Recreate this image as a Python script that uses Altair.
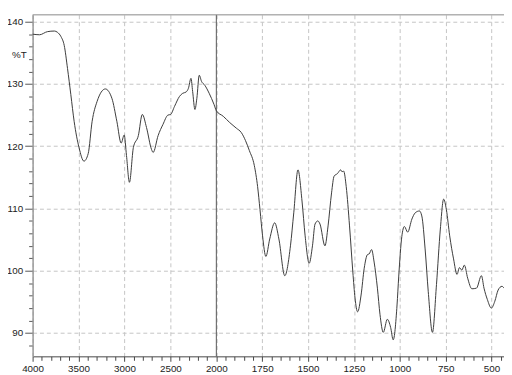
import altair as alt
import pandas as pd

wavenumber = [4000, 3925, 3839, 3763, 3730, 3691, 3656, 3620, 3584, 3548,
              3495, 3441, 3395, 3352, 3298, 3208, 3137, 3083, 3036, 3003,
              2978, 2946, 2903, 2849, 2806, 2760, 2706, 2688, 2634, 2581,
              2527, 2498, 2455, 2401, 2366, 2330, 2304, 2276, 2258, 2233,
              2212, 2186, 2161, 2126, 2078, 2025, 2000, 1962, 1927, 1891,
              1864, 1841, 1820, 1793, 1775, 1762, 1748, 1730, 1709, 1682,
              1659, 1627, 1596, 1578, 1555, 1533, 1516, 1494, 1476, 1462,
              1447, 1435, 1408, 1391, 1372, 1358, 1340, 1322, 1315, 1306,
              1292, 1274, 1256, 1244, 1230, 1211, 1194, 1176, 1167, 1154,
              1140, 1122, 1108, 1090, 1068, 1050, 1036, 1015, 1006, 989,
              975, 957, 934, 916, 893, 880, 862, 845, 822, 800,
              779, 761, 746, 728, 707, 688, 675, 662, 648, 630,
              607, 582, 555, 541, 523, 501, 482, 464, 443, 432]

transmittance = [138.0, 137.9, 138.4, 138.5, 138.3, 137.6, 136.2, 132.5, 128.3, 124.0,
                 119.8, 117.6, 118.8, 124.0, 127.2, 129.2, 127.7, 124.0, 120.5, 121.8,
                 118.5, 114.2, 119.8, 121.7, 125.1, 123.0, 119.5, 119.0, 121.7, 123.5,
                 125.0, 125.1, 126.4, 128.0, 128.5, 128.7, 129.3, 130.9, 128.8, 125.9,
                 127.7, 131.4, 130.4, 129.8, 128.5, 126.7, 125.7, 124.8, 123.8, 122.9,
                 122.2, 120.9, 119.3, 116.9, 113.5, 109.8, 105.6, 102.3, 105.1, 107.7,
                 105.1, 99.2, 104.0, 109.3, 116.2, 111.2, 105.6, 101.2, 104.0, 107.5,
                 108.0, 107.5, 104.0, 107.2, 112.5, 115.2, 115.6, 116.2, 115.9, 116.0,
                 113.5, 107.2, 99.8, 95.6, 93.4, 96.1, 100.4, 102.6, 102.7, 103.4,
                 101.4, 97.2, 93.0, 90.1, 92.2, 90.9, 88.9, 94.5, 99.0, 105.5,
                 107.1, 106.2, 108.3, 109.3, 109.6, 108.8, 103.5, 96.7, 90.1, 97.8,
                 106.7, 111.5, 109.8, 105.6, 101.9, 99.4, 100.5, 100.1, 100.9, 98.8,
                 97.1, 97.2, 99.2, 97.2, 95.4, 94.0, 95.1, 96.9, 97.5, 97.2]

x_ticks = list(range(4000, 1999, -100)) + list(range(1950, 449, -50))
y_ticks = list(range(88, 141, 2))
break_at = [2000]

X_DOMAIN = [4000, 2000, 432]
X_RANGE = [0, 186.7, 479]
Y_DOMAIN = [86.25, 141.1]

df = pd.DataFrame({"wn": wavenumber, "t": transmittance})

x_scale = alt.Scale(domain=X_DOMAIN, range=X_RANGE, nice=False, zero=False)
y_scale = alt.Scale(domain=Y_DOMAIN, nice=False, zero=False)

major_x = "(datum.value >= 2000 ? datum.value % 500 == 0 : datum.value % 250 == 0)"
major_y = "(datum.value % 10 == 0)"

FONT = "Liberation Sans"

x_axis = alt.Axis(
    values=x_ticks, tickCount=200,
    labelExpr=f"{major_x} ? format(datum.value, 'd') : ''",
    tickSize={"condition": {"test": major_x, "value": 5}, "value": 4},
    gridOpacity={"condition": {"test": major_x, "value": 1}, "value": 0},
    grid=True, gridColor="#c4c4c4", gridDash=[4, 3], gridWidth=1,
    domainColor="#444444", tickColor="#444444",
    labelOverlap=False, labelFlush=False, labelBound=False,
    labelFont=FONT, labelFontSize=10, labelColor="#222222", labelPadding=2,
)

y_axis = alt.Axis(
    values=y_ticks, tickCount=200,
    labelExpr=f"{major_y} ? format(datum.value, 'd') : ''",
    tickSize={"condition": {"test": major_y, "value": 8}, "value": 4},
    gridOpacity={"condition": {"test": major_y, "value": 1}, "value": 0},
    grid=True, gridColor="#c4c4c4", gridDash=[4, 3], gridWidth=1,
    domainColor="#999999", domainWidth=1.5, tickColor="#555555",
    labelOverlap=False, labelFlush=False, labelBound=False,
    labelFont=FONT, labelFontSize=10, labelColor="#222222", labelPadding=2,
    title="%T", titleAngle=0, titleX=-14, titleY=40, titleAlign="center",
    titleBaseline="middle", titleFont=FONT, titleFontSize=10,
    titleFontWeight="normal", titleColor="#222222",
)

base = alt.Chart(df)

line = base.mark_line(color="#3a3a3a", strokeWidth=1, interpolate="monotone").encode(
    x=alt.X("wn:Q", scale=x_scale, axis=x_axis, title=None),
    y=alt.Y("t:Q", scale=y_scale, axis=y_axis),
)

brk = alt.Chart(pd.DataFrame({"wn": break_at})).mark_rule(color="#555555", strokeWidth=1).encode(
    x=alt.X("wn:Q", scale=x_scale)
)

top = alt.Chart(pd.DataFrame({"t": [Y_DOMAIN[1]]})).mark_rule(color="#888888", strokeWidth=1).encode(
    y=alt.Y("t:Q", scale=y_scale)
)

chart = alt.layer(brk, top, line).properties(
    width=479, height=347, autosize="none",
    padding={"left": 25, "top": 4, "right": 0, "bottom": 16},
).configure_view(strokeWidth=0)

chart.save("out.html", embed_options={"renderer": "svg", "actions": False})
